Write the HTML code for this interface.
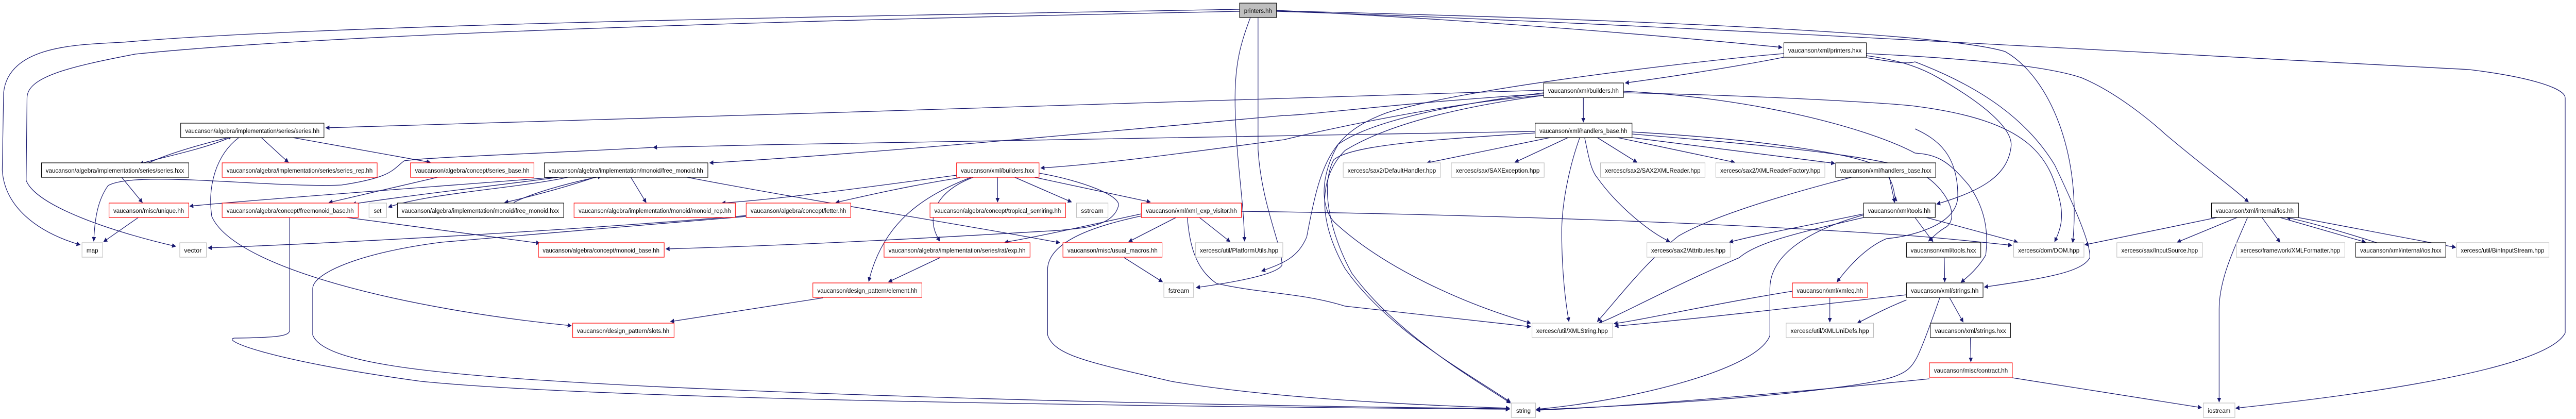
<!DOCTYPE html>
<html><head><meta charset="utf-8"><style>
html,body{margin:0;padding:0;background:#fff;width:100vw;height:100vh;overflow:hidden;}
svg{display:block;position:absolute;left:0;top:0;width:100vw;height:100vh;}
text{font-family:"Liberation Sans",sans-serif;font-size:12px;fill:#000;}
.e{fill:none;stroke:#191970;stroke-width:1.3;}
.k{fill:#fff;stroke:#000;stroke-width:1.2;}
.r{fill:#fff;stroke:#ff0000;stroke-width:1.2;}
.g{fill:#fff;stroke:#bfbfbf;stroke-width:1.2;}
</style></head><body>
<svg viewBox="0 0 5717 813" preserveAspectRatio="none" xmlns="http://www.w3.org/2000/svg">
<defs><marker id="a" viewBox="0 0 10 10" refX="9" refY="5" markerWidth="9" markerHeight="9" orient="auto" markerUnits="userSpaceOnUse"><path d="M0,0 L10,5 L0,10 z" fill="#191970"/></marker></defs>
<g class="e" marker-end="url(#a)">
<path d="M2751,18 C2000,30 800,45 300,80 C220,88 20,75 8,180 L5,330 C10,400 80,450 178,475"/>
<path d="M2751,22 C2000,35 800,60 300,105 C150,130 60,150 60,190 L58,350 C80,400 250,450 390,478"/>
<path d="M2833,20 C3300,40 3700,70 3955,92"/>
<path d="M2775,34 C2755,80 2741,120 2741,190 C2741,300 2760,380 2762,468"/>
<path d="M2792,34 L2792,290 C2800,400 2847,480 2845,515 C2830,535 2720,550 2655,558"/>
<path d="M2833,22 C3500,40 4500,90 5480,135 C5620,150 5693,172 5693,190 L5693,646 C5650,720 5200,770 4962,792"/>
<path d="M2833,21 C3500,35 4300,60 4450,100 C4550,150 4620,300 4600,471"/>
<path d="M3426,175 C3000,185 1500,230 723,248"/>
<path d="M510,267 C450,290 360,305 310,318"/>
<path d="M330,316 C380,295 470,275 515,265"/>
<path d="M580,267 L640,315"/>
<path d="M650,267 L955,315"/>
<path d="M530,267 C480,300 460,360 470,420 C520,520 900,600 1268,632"/>
<path d="M971,344 L730,393"/>
<path d="M270,344 L316,393"/>
<path d="M307,422 L230,469"/>
<path d="M770,422 L1198,472"/>
<path d="M643,422 L643,640 C643,652 620,655 520,656 C490,660 600,700 935,740 C1400,780 2800,790 3350,794"/>
<path d="M1656,420 C1500,432 1100,460 980,470 C800,490 694,530 694,560 L694,650 C720,710 1000,730 1450,750 C2200,780 3000,790 3350,793"/>
<path d="M1660,418 C1300,445 800,470 462,481"/>
<path d="M1230,344 C1000,360 600,385 421,400"/>
<path d="M1240,344 C1100,360 900,380 782,396"/>
<path d="M1260,344 C1150,365 950,375 862,402"/>
<path d="M1320,344 C1250,365 1160,385 1120,393"/>
<path d="M1140,393 C1180,375 1260,355 1335,342"/>
<path d="M1400,344 L1434,393"/>
<path d="M1525,344 C1800,390 2100,430 2352,471"/>
<path d="M1450,286 C1150,300 950,305 897,312 C870,330 870,344 758,359 C600,365 300,330 240,360 C215,390 210,430 208,468"/>
<path d="M3407,255 C3000,260 2200,270 1450,286"/>
<path d="M3426,182 C3100,200 2900,224 2850,224 C2400,260 1900,300 1575,316"/>
<path d="M3426,185 C3200,200 2900,260 2850,271 C2600,300 2450,318 2310,326"/>
<path d="M2123,340 C1950,360 1750,385 1602,394"/>
<path d="M2130,345 C2020,360 1920,380 1855,393"/>
<path d="M2214,344 L2214,392"/>
<path d="M2252,344 L2378,392"/>
<path d="M2296,344 L2553,392"/>
<path d="M2155,344 C2050,380 1960,430 1928,546"/>
<path d="M2160,344 C2080,370 2050,420 2086,468"/>
<path d="M2306,336 C2400,350 2490,380 2482,400 C2470,440 2400,443 2350,447 C2100,460 1800,475 1478,483"/>
<path d="M2086,500 L1972,547"/>
<path d="M1826,578 L1488,624"/>
<path d="M2495,500 L2580,547"/>
<path d="M2610,422 L2505,469"/>
<path d="M2662,422 L2730,469"/>
<path d="M2533,415 C2400,440 2300,460 2230,470"/>
<path d="M2533,419 C2420,440 2330,470 2325,520 L2325,650 C2340,690 2417,703 2600,740 C2800,770 3100,785 3350,792"/>
<path d="M2755,410 C3200,415 3800,430 4250,458 C4350,465 4420,472 4465,476"/>
<path d="M2635,422 C2640,470 2650,520 2700,550 C2800,570 2890,568 2985,594 C3200,615 3300,625 3397,634"/>
<path d="M3959,111 C3850,130 3700,150 3607,161"/>
<path d="M3959,104 C3800,115 3250,170 3077,219 C2950,260 2930,320 2900,460 C2880,500 2850,510 2800,526"/>
<path d="M3514,190 L3514,237"/>
<path d="M3426,185 C3300,200 3100,230 2985,292 C2930,340 2920,420 2985,521 C3080,640 3250,720 3352,780"/>
<path d="M3426,180 C3250,200 3050,230 2970,280 C2930,340 2930,400 2960,430 C3070,520 3250,590 3397,627"/>
<path d="M3506,267 C3480,330 3466,400 3466,450 C3466,530 3475,590 3482,624"/>
<path d="M3440,267 L3167,316"/>
<path d="M3480,267 L3362,315"/>
<path d="M3545,267 L3633,315"/>
<path d="M3590,267 L3850,315"/>
<path d="M3622,267 L4072,317"/>
<path d="M3517,268 C3525,300 3530,330 3545,345 C3590,400 3660,450 3706,469"/>
<path d="M3407,258 C3200,270 3000,280 2960,310 C2930,360 2950,450 3000,530 C3100,650 3280,740 3352,782"/>
<path d="M4109,344 C3950,380 3800,420 3725,458 C3650,510 3590,580 3545,624"/>
<path d="M4136,415 C4000,440 3900,455 3838,470"/>
<path d="M4136,422 C4000,450 3900,469 3860,500 C3700,560 3600,610 3548,627"/>
<path d="M4136,417 C4000,450 3928,500 3928,560 L3928,651 C3900,720 3600,780 3410,794"/>
<path d="M4193,344 L4205,393"/>
<path d="M4250,422 L4290,469"/>
<path d="M4275,422 L4478,470"/>
<path d="M4315,500 L4316,547"/>
<path d="M4327,578 L4357,625"/>
<path d="M4305,578 C4280,640 4260,687 4250,700 C4230,730 4200,740 4000,760 C3800,780 3500,792 3410,795"/>
<path d="M4373,655 L4374,702"/>
<path d="M4466,733 L4886,791"/>
<path d="M4282,735 C4000,760 3600,790 3410,796"/>
<path d="M4061,578 L4061,625"/>
<path d="M3978,565 C3800,590 3650,620 3582,628"/>
<path d="M4231,572 C4000,595 3750,620 3584,633"/>
<path d="M4231,582 C4180,600 4150,615 4122,627"/>
<path d="M4920,422 L4627,475"/>
<path d="M4965,422 L4832,470"/>
<path d="M5020,422 L5060,470"/>
<path d="M5060,422 L5250,470"/>
<path d="M5275,471 C5200,450 5120,430 5075,422"/>
<path d="M5100,422 L5450,480"/>
<path d="M4988,422 C4960,480 4925,540 4925,600 L4925,780"/>
<path d="M4142,104 C4400,115 4550,130 4620,151 C4700,180 4780,240 4805,260 C4900,330 4950,360 4990,392"/>
<path d="M4142,108 C4200,115 4250,125 4300,150 C4400,200 4470,250 4463,286 C4455,340 4400,370 4298,396"/>
<path d="M4250,250 C4300,270 4345,300 4345,380 C4345,440 4230,460 4187,463 C4140,480 4100,520 4077,547"/>
<path d="M4142,112 C4200,120 4230,125 4250,120 C4400,170 4500,234 4560,320 C4620,430 4640,480 4638,500 C4620,530 4527,541 4404,557"/>
<path d="M3603,177 C3900,190 4150,250 4250,297 C4300,300 4324,312 4370,360 C4416,417 4410,470 4407,495 C4390,520 4370,535 4352,548"/>
<path d="M3603,180 C3900,185 4200,200 4250,206 C4500,234 4550,300 4573,396 C4580,430 4570,450 4560,469"/>
<path d="M3622,256 C3900,270 4150,300 4180,330 C4210,360 4200,380 4210,390"/>
<path d="M3622,260 C3900,280 4150,300 4250,330 C4320,360 4350,420 4320,440 C4300,450 4290,460 4280,468"/>
</g>
<g>
<rect class="g" x="2751" y="6" width="82" height="28" style="fill:#bfbfbf;stroke:#000"/><text x="2792" y="25" text-anchor="middle" textLength="62" lengthAdjust="spacingAndGlyphs">printers.hh</text>
<rect class="k" x="3959" y="83" width="183" height="28"/><text x="4050" y="102" text-anchor="middle" textLength="163" lengthAdjust="spacingAndGlyphs">vaucanson/xml/printers.hxx</text>
<rect class="k" x="3426" y="161" width="177" height="28"/><text x="3514" y="180" text-anchor="middle" textLength="157" lengthAdjust="spacingAndGlyphs">vaucanson/xml/builders.hh</text>
<rect class="k" x="401" y="239" width="318" height="28"/><text x="560" y="258" text-anchor="middle" textLength="298" lengthAdjust="spacingAndGlyphs">vaucanson/algebra/implementation/series/series.hh</text>
<rect class="k" x="3407" y="239" width="215" height="28"/><text x="3514" y="258" text-anchor="middle" textLength="195" lengthAdjust="spacingAndGlyphs">vaucanson/xml/handlers_base.hh</text>
<rect class="k" x="92" y="316" width="327" height="28"/><text x="255" y="335" text-anchor="middle" textLength="307" lengthAdjust="spacingAndGlyphs">vaucanson/algebra/implementation/series/series.hxx</text>
<rect class="r" x="493" y="316" width="344" height="28"/><text x="665" y="335" text-anchor="middle" textLength="324" lengthAdjust="spacingAndGlyphs">vaucanson/algebra/implementation/series/series_rep.hh</text>
<rect class="r" x="911" y="316" width="274" height="28"/><text x="1048" y="335" text-anchor="middle" textLength="254" lengthAdjust="spacingAndGlyphs">vaucanson/algebra/concept/series_base.hh</text>
<rect class="k" x="1208" y="316" width="363" height="28"/><text x="1389" y="335" text-anchor="middle" textLength="343" lengthAdjust="spacingAndGlyphs">vaucanson/algebra/implementation/monoid/free_monoid.hh</text>
<rect class="r" x="2123" y="316" width="183" height="28"/><text x="2214" y="335" text-anchor="middle" textLength="163" lengthAdjust="spacingAndGlyphs">vaucanson/xml/builders.hxx</text>
<rect class="g" x="2981" y="316" width="216" height="28"/><text x="3089" y="335" text-anchor="middle" textLength="196" lengthAdjust="spacingAndGlyphs">xercesc/sax2/DefaultHandler.hpp</text>
<rect class="g" x="3221" y="316" width="206" height="28"/><text x="3324" y="335" text-anchor="middle" textLength="186" lengthAdjust="spacingAndGlyphs">xercesc/sax/SAXException.hpp</text>
<rect class="g" x="3552" y="316" width="232" height="28"/><text x="3668" y="335" text-anchor="middle" textLength="212" lengthAdjust="spacingAndGlyphs">xercesc/sax2/SAX2XMLReader.hpp</text>
<rect class="g" x="3808" y="316" width="242" height="28"/><text x="3929" y="335" text-anchor="middle" textLength="222" lengthAdjust="spacingAndGlyphs">xercesc/sax2/XMLReaderFactory.hpp</text>
<rect class="k" x="4074" y="316" width="222" height="28"/><text x="4185" y="335" text-anchor="middle" textLength="202" lengthAdjust="spacingAndGlyphs">vaucanson/xml/handlers_base.hxx</text>
<rect class="r" x="242" y="394" width="177" height="28"/><text x="330" y="413" text-anchor="middle" textLength="157" lengthAdjust="spacingAndGlyphs">vaucanson/misc/unique.hh</text>
<rect class="r" x="493" y="394" width="302" height="28"/><text x="644" y="413" text-anchor="middle" textLength="282" lengthAdjust="spacingAndGlyphs">vaucanson/algebra/concept/freemonoid_base.hh</text>
<rect class="g" x="819" y="394" width="39" height="28"/><text x="838" y="413" text-anchor="middle" textLength="17" lengthAdjust="spacingAndGlyphs">set</text>
<rect class="k" x="882" y="394" width="369" height="28"/><text x="1066" y="413" text-anchor="middle" textLength="349" lengthAdjust="spacingAndGlyphs">vaucanson/algebra/implementation/monoid/free_monoid.hxx</text>
<rect class="r" x="1274" y="394" width="358" height="28"/><text x="1453" y="413" text-anchor="middle" textLength="338" lengthAdjust="spacingAndGlyphs">vaucanson/algebra/implementation/monoid/monoid_rep.hh</text>
<rect class="r" x="1656" y="394" width="232" height="28"/><text x="1772" y="413" text-anchor="middle" textLength="212" lengthAdjust="spacingAndGlyphs">vaucanson/algebra/concept/letter.hh</text>
<rect class="r" x="2064" y="394" width="301" height="28"/><text x="2214" y="413" text-anchor="middle" textLength="281" lengthAdjust="spacingAndGlyphs">vaucanson/algebra/concept/tropical_semiring.hh</text>
<rect class="g" x="2389" y="394" width="70" height="28"/><text x="2424" y="413" text-anchor="middle" textLength="50" lengthAdjust="spacingAndGlyphs">sstream</text>
<rect class="r" x="2533" y="394" width="222" height="28"/><text x="2644" y="413" text-anchor="middle" textLength="202" lengthAdjust="spacingAndGlyphs">vaucanson/xml/xml_exp_visitor.hh</text>
<rect class="k" x="4136" y="394" width="159" height="28"/><text x="4215" y="413" text-anchor="middle" textLength="139" lengthAdjust="spacingAndGlyphs">vaucanson/xml/tools.hh</text>
<rect class="k" x="4908" y="394" width="193" height="28"/><text x="5004" y="413" text-anchor="middle" textLength="173" lengthAdjust="spacingAndGlyphs">vaucanson/xml/internal/ios.hh</text>
<rect class="g" x="182" y="471" width="46" height="28"/><text x="205" y="490" text-anchor="middle" textLength="26" lengthAdjust="spacingAndGlyphs">map</text>
<rect class="g" x="399" y="471" width="59" height="28"/><text x="428" y="490" text-anchor="middle" textLength="39" lengthAdjust="spacingAndGlyphs">vector</text>
<rect class="r" x="1195" y="471" width="279" height="28"/><text x="1334" y="490" text-anchor="middle" textLength="259" lengthAdjust="spacingAndGlyphs">vaucanson/algebra/concept/monoid_base.hh</text>
<rect class="r" x="1962" y="471" width="324" height="28"/><text x="2124" y="490" text-anchor="middle" textLength="304" lengthAdjust="spacingAndGlyphs">vaucanson/algebra/implementation/series/rat/exp.hh</text>
<rect class="r" x="2359" y="471" width="220" height="28"/><text x="2469" y="490" text-anchor="middle" textLength="200" lengthAdjust="spacingAndGlyphs">vaucanson/misc/usual_macros.hh</text>
<rect class="g" x="2653" y="471" width="194" height="28"/><text x="2750" y="490" text-anchor="middle" textLength="174" lengthAdjust="spacingAndGlyphs">xercesc/util/PlatformUtils.hpp</text>
<rect class="g" x="3655" y="471" width="185" height="28"/><text x="3747" y="490" text-anchor="middle" textLength="165" lengthAdjust="spacingAndGlyphs">xercesc/sax2/Attributes.hpp</text>
<rect class="k" x="4231" y="471" width="165" height="28"/><text x="4313" y="490" text-anchor="middle" textLength="145" lengthAdjust="spacingAndGlyphs">vaucanson/xml/tools.hxx</text>
<rect class="g" x="4469" y="471" width="156" height="28"/><text x="4547" y="490" text-anchor="middle" textLength="136" lengthAdjust="spacingAndGlyphs">xercesc/dom/DOM.hpp</text>
<rect class="g" x="4698" y="471" width="190" height="28"/><text x="4793" y="490" text-anchor="middle" textLength="170" lengthAdjust="spacingAndGlyphs">xercesc/sax/InputSource.hpp</text>
<rect class="g" x="4963" y="471" width="241" height="28"/><text x="5083" y="490" text-anchor="middle" textLength="221" lengthAdjust="spacingAndGlyphs">xercesc/framework/XMLFormatter.hpp</text>
<rect class="k" x="5228" y="471" width="200" height="28"/><text x="5328" y="490" text-anchor="middle" textLength="180" lengthAdjust="spacingAndGlyphs">vaucanson/xml/internal/ios.hxx</text>
<rect class="g" x="5452" y="471" width="205" height="28"/><text x="5554" y="490" text-anchor="middle" textLength="185" lengthAdjust="spacingAndGlyphs">xercesc/util/BinInputStream.hpp</text>
<rect class="r" x="1804" y="549" width="242" height="28"/><text x="1925" y="568" text-anchor="middle" textLength="222" lengthAdjust="spacingAndGlyphs">vaucanson/design_pattern/element.hh</text>
<rect class="g" x="2583" y="549" width="66" height="28"/><text x="2616" y="568" text-anchor="middle" textLength="46" lengthAdjust="spacingAndGlyphs">fstream</text>
<rect class="r" x="3978" y="549" width="167" height="28"/><text x="4061" y="568" text-anchor="middle" textLength="147" lengthAdjust="spacingAndGlyphs">vaucanson/xml/xmleq.hh</text>
<rect class="k" x="4231" y="549" width="170" height="28"/><text x="4316" y="568" text-anchor="middle" textLength="150" lengthAdjust="spacingAndGlyphs">vaucanson/xml/strings.hh</text>
<rect class="r" x="1271" y="627" width="225" height="28"/><text x="1383" y="646" text-anchor="middle" textLength="205" lengthAdjust="spacingAndGlyphs">vaucanson/design_pattern/slots.hh</text>
<rect class="g" x="3400" y="627" width="179" height="28"/><text x="3489" y="646" text-anchor="middle" textLength="159" lengthAdjust="spacingAndGlyphs">xercesc/util/XMLString.hpp</text>
<rect class="g" x="3964" y="627" width="194" height="28"/><text x="4061" y="646" text-anchor="middle" textLength="174" lengthAdjust="spacingAndGlyphs">xercesc/util/XMLUniDefs.hpp</text>
<rect class="k" x="4284" y="627" width="178" height="28"/><text x="4373" y="646" text-anchor="middle" textLength="158" lengthAdjust="spacingAndGlyphs">vaucanson/xml/strings.hxx</text>
<rect class="r" x="4282" y="704" width="184" height="28"/><text x="4374" y="723" text-anchor="middle" textLength="164" lengthAdjust="spacingAndGlyphs">vaucanson/misc/contract.hh</text>
<rect class="g" x="3354" y="782" width="54" height="28"/><text x="3381" y="801" text-anchor="middle" textLength="32" lengthAdjust="spacingAndGlyphs">string</text>
<rect class="g" x="4890" y="782" width="70" height="28"/><text x="4925" y="801" text-anchor="middle" textLength="50" lengthAdjust="spacingAndGlyphs">iostream</text>
</g>
</svg>
</body></html>
